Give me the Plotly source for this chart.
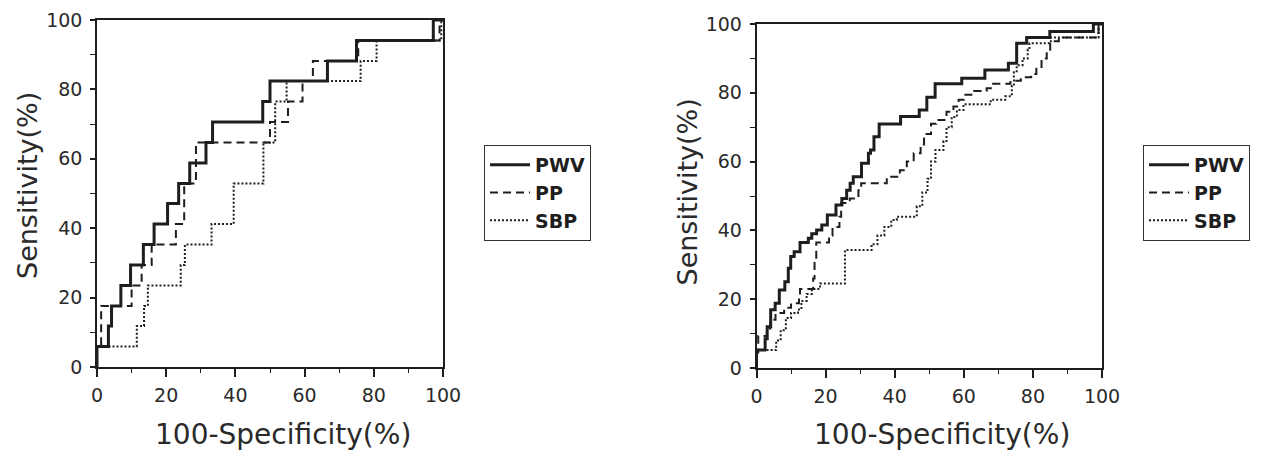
import plotly.graph_objects as go

# ---------------- data (ROC step points: x = 100-Specificity, y = Sensitivity) -------------
left_pwv_x = [0, 0, 3.3, 4.2, 6.9, 9.7, 13.4, 16.5, 20.4, 23.6, 26.8, 31.5, 33.4, 47.9, 50.0, 66.6, 75.0, 97.2, 100]
left_pwv_y = [0, 5.9, 11.8, 17.6, 23.5, 29.4, 35.3, 41.2, 47.1, 52.9, 58.8, 64.7, 70.6, 76.5, 82.4, 88.2, 94.1, 100, 100]

left_pp_x = [0, 0, 1.2, 1.2, 10.0, 12.9, 15.8, 22.8, 25.2, 25.2, 28.6, 28.6, 50.0, 55.2, 59.4, 62.4, 75.5, 99.0, 100]
left_pp_y = [0, 5.9, 11.8, 17.6, 23.5, 29.4, 35.3, 41.2, 47.1, 52.9, 58.8, 64.7, 70.6, 76.5, 82.4, 88.2, 94.1, 100, 100]

left_sbp_x = [0, 0, 11.5, 13.6, 14.7, 24.2, 25.4, 33.1, 39.5, 39.5, 48.1, 48.1, 51.5, 51.5, 54.8, 76.2, 80.8, 99.5, 100]
left_sbp_y = [0, 5.9, 11.8, 17.6, 23.5, 29.4, 35.3, 41.2, 47.1, 52.9, 58.8, 64.7, 70.6, 76.5, 82.4, 88.2, 94.1, 100, 100]

right_pwv_x = [0, 0, 2.5, 3.1, 4.1, 5.4, 6.6, 8.2, 9.2, 9.9, 10.9, 12.6, 15.0, 16.0, 17.4, 18.9, 20.5,
               23.0, 24.7, 26.1, 27.1, 28.0, 30.4, 32.4, 33.0, 34.0, 35.5, 41.7, 47.1, 49.3, 51.7,
               59.4, 66.1, 72.9, 75.3, 78.2, 84.9, 97.5, 100]
right_pwv_y = [0, 5.2, 8.5, 12.0, 16.9, 18.8, 22.7, 25.1, 29.0, 32.4, 33.8, 36.5, 37.7, 39.0, 40.1, 41.6, 44.5,
               47.4, 49.3, 51.7, 53.7, 55.6, 59.5, 62.4, 63.4, 67.2, 70.9, 73.1, 75.0, 78.7, 82.6,
               84.2, 86.6, 88.6, 94.4, 96.1, 97.8, 100, 100]

right_pp_x = [0, 0, 0.5, 3.0, 4.0, 5.5, 8.0, 10.0, 12.3, 12.6, 16.4, 16.8, 17.3, 21.0, 22.0, 24.0, 24.5,
              27.0, 29.5, 30.3, 37.7, 41.5, 43.5, 45.5, 47.5, 48.5, 50.5, 52.0, 55.0, 57.0, 58.5,
              60.0, 63.0, 66.6, 68.5, 73.5, 76.5, 79.5, 81.0, 82.5, 84.0, 85.0, 87.5, 99.0, 100]
right_pp_y = [0, 4.5, 9.3, 11.5, 14.0, 16.0, 17.5, 18.8, 20.5, 23.0, 26.0, 31.0, 36.5, 38.5, 41.0, 44.0, 48.0,
              49.3, 51.7, 53.7, 55.6, 57.5, 60.0, 62.4, 65.0, 68.0, 71.0, 72.1, 74.5, 76.0, 78.0,
              79.4, 80.5, 81.3, 82.6, 83.5, 84.5, 85.5, 87.5, 90.0, 92.5, 95.0, 96.1, 100, 100]

right_sbp_x = [0, 0, 5.7, 7.0, 8.5, 10.0, 12.0, 13.0, 14.5, 16.0, 18.4, 25.6, 33.3, 35.0, 37.0, 39.0, 40.6,
               46.4, 48.0, 49.5, 50.5, 51.8, 54.1, 55.0, 56.5, 58.0, 59.9, 67.8, 72.0, 73.9, 74.5,
               75.3, 77.0, 78.5, 79.0, 85.2, 99.0, 100]
right_sbp_y = [0, 5.2, 8.0, 11.0, 14.5, 16.0, 17.0, 19.5, 21.5, 23.0, 24.6, 34.3, 36.0, 38.5, 41.0, 43.0, 44.0,
               47.0, 51.0, 55.0, 60.0, 63.4, 66.0, 70.0, 73.0, 75.0, 76.7, 78.0, 79.0, 82.0, 86.0,
               88.0, 90.0, 92.5, 94.4, 96.1, 100, 100]

series_names = ["PWV", "PP", "SBP"]
tick_vals = [0, 20, 40, 60, 80, 100]
x_title = "100-Specificity(%)"
y_title = "Sensitivity(%)"

# ---------------- styling -------------
INK = "#1e1e1e"
FONT = "DejaVu Sans"
styles = {
    "PWV": dict(color=INK, width=3, dash="solid"),
    "PP": dict(color=INK, width=2, dash="8px,5px"),
    "SBP": dict(color=INK, width=2, dash="2px,2px"),
}

fig = go.Figure()

left = [(left_pwv_x, left_pwv_y), (left_pp_x, left_pp_y), (left_sbp_x, left_sbp_y)]
right = [(right_pwv_x, right_pwv_y), (right_pp_x, right_pp_y), (right_sbp_x, right_sbp_y)]

for name, (xs, ys) in zip(series_names, left):
    fig.add_trace(go.Scatter(x=xs, y=ys, mode="lines", line_shape="hv", name=name,
                             line=styles[name], xaxis="x", yaxis="y", legend="legend"))
for name, (xs, ys) in zip(series_names, right):
    fig.add_trace(go.Scatter(x=xs, y=ys, mode="lines", line_shape="hv", name=name,
                             line=styles[name], xaxis="x2", yaxis="y2", legend="legend2"))

# page has an 8px body margin: figure spans page pixels 8..1265 x 8..453
OFF = 8
W, H = 1265 - OFF, 453 - OFF


def px(xp):
    return (xp - OFF) / W


def py(yp):
    return (H - (yp - OFF)) / H


def xaxis(a, b, anchor):
    return dict(domain=[px(a), px(b)], anchor=anchor, range=[0, 100], tickvals=tick_vals,
                ticks="outside", ticklen=8, tickwidth=1.5, tickcolor=INK,
                minor=dict(dtick=10, tick0=0, ticks="outside", ticklen=4, tickwidth=1.2, tickcolor=INK),
                showline=True, linecolor=INK, linewidth=1.6, mirror=True,
                showgrid=False, zeroline=False, automargin=False, ticklabelstandoff=2,
                tickfont=dict(family=FONT, size=19, color="#2a2a2a"))


def yaxis(top, bottom, anchor):
    return dict(domain=[py(bottom), py(top)], anchor=anchor, range=[0, 100], tickvals=tick_vals,
                ticks="outside", ticklen=5, tickwidth=1.5, tickcolor=INK,
                minor=dict(dtick=10, tick0=0, ticks="outside", ticklen=5, tickwidth=1.2, tickcolor=INK),
                showline=True, linecolor=INK, linewidth=1.6, mirror=True,
                showgrid=False, zeroline=False, automargin=False, ticklabelstandoff=4,
                tickfont=dict(family=FONT, size=19, color="#2a2a2a"))


legend_style = dict(xanchor="left", yanchor="top", bordercolor="#333", borderwidth=1,
                    bgcolor="white", font=dict(family=FONT, size=19, color=INK, weight="bold"),
                    tracegroupgap=0, itemclick=False, itemwidth=40)

fig.update_layout(
    width=W, height=H,
    margin=dict(l=0, r=0, t=0, b=0, pad=0, autoexpand=False),
    paper_bgcolor="white", plot_bgcolor="white",
    showlegend=True,
    xaxis=xaxis(97, 443, "y"),
    yaxis=yaxis(20, 367, "x"),
    xaxis2=xaxis(756.5, 1102, "y2"),
    yaxis2=yaxis(24, 368, "x2"),
    legend=dict(x=px(484), y=py(145), **legend_style),
    legend2=dict(x=px(1143), y=py(145), **legend_style),
)

title_font = dict(family=FONT, size=28, color="#2a2a2a")
for xc, yc in [(282.5, 434), (941.5, 434)]:
    fig.add_annotation(text=x_title, x=px(xc), y=py(yc), xref="paper", yref="paper",
                       showarrow=False, xanchor="center", yanchor="middle", font=title_font)
for xc, yc in [(27, 186), (686.5, 192)]:
    fig.add_annotation(text=y_title, x=px(xc), y=py(yc), xref="paper", yref="paper",
                       showarrow=False, xanchor="center", yanchor="middle", textangle=-90,
                       font=dict(family=FONT, size=27, color="#2a2a2a"))

fig.write_html("out.html")
